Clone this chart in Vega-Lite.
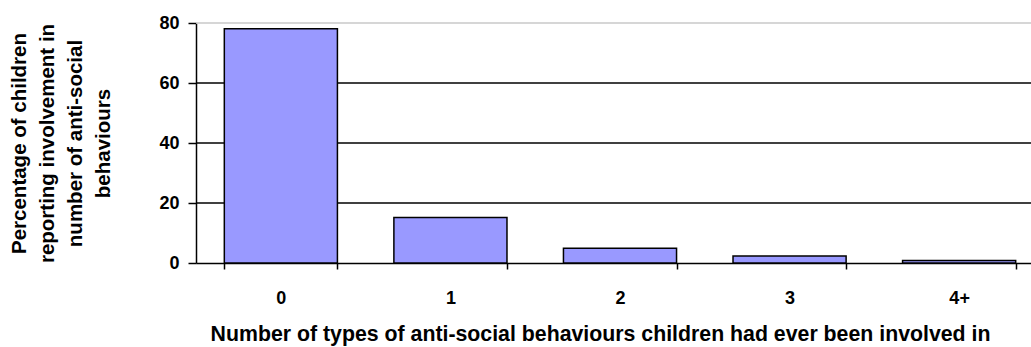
{
  "$schema": "https://vega.github.io/schema/vega-lite/v6.json",
  "width": 848,
  "height": 240,
  "autosize": "none",
  "padding": {"left": 196, "top": 23, "right": 0, "bottom": 84},
  "background": "white",
  "config": {
    "font": "Liberation Sans",
    "view": {"stroke": null}
  },
  "datasets": {
    "behaviours": [
      {"types": "0", "pct": 78.1},
      {"types": "1", "pct": 15.2},
      {"types": "2", "pct": 4.9},
      {"types": "3", "pct": 2.3},
      {"types": "4+", "pct": 0.8}
    ],
    "gridDark": [{"pct": 20}, {"pct": 40}, {"pct": 60}],
    "gridTop": [{"pct": 80}]
  },
  "layer": [
    {
      "data": {"name": "gridDark"},
      "mark": {"type": "rule", "color": "black", "strokeWidth": 1.5},
      "encoding": {
        "y": {"field": "pct", "type": "quantitative"}
      }
    },
    {
      "data": {"name": "gridTop"},
      "mark": {"type": "rule", "color": "#c8c8c8", "strokeWidth": 1.5},
      "encoding": {
        "y": {"field": "pct", "type": "quantitative"}
      }
    },
    {
      "data": {"name": "behaviours"},
      "mark": {"type": "bar", "color": "#9999FF", "stroke": "black", "strokeWidth": 1.5},
      "encoding": {
        "x": {
          "field": "types",
          "type": "ordinal",
          "sort": null,
          "scale": {"paddingInner": 0.333, "paddingOuter": 0.167},
          "axis": {
            "title": "Number of types of anti-social behaviours children had ever been involved in",
            "titleFont": "Liberation Sans",
            "titleFontSize": 21.3,
            "titleFontWeight": "bold",
            "titleColor": "black",
            "titlePadding": 16,
            "titleX": 404,
            "labelAngle": 0,
            "labelFont": "Liberation Sans",
            "labelFontSize": 18,
            "labelFontWeight": "bold",
            "labelColor": "black",
            "labelPadding": 20,
            "domainColor": "black",
            "domainWidth": 1.5,
            "tickColor": "black",
            "tickWidth": 1.5,
            "tickSize": 6,
            "tickBand": "extent",
            "grid": false
          }
        },
        "y": {
          "field": "pct",
          "type": "quantitative",
          "scale": {"domain": [0, 80], "nice": false},
          "axis": {
            "values": [0, 20, 40, 60, 80],
            "title": ["Percentage of children", "reporting involvement in", "number of anti-social", "behaviours"],
            "titleFont": "Liberation Sans",
            "titleFontSize": 20.5,
            "titleFontWeight": "bold",
            "titleColor": "black",
            "titleLineHeight": 28,
            "titlePadding": 45,
            "labelFont": "Liberation Sans",
            "labelFontSize": 18,
            "labelFontWeight": "bold",
            "labelColor": "black",
            "labelPadding": 9,
            "domainColor": "black",
            "domainWidth": 1.5,
            "tickColor": "black",
            "tickWidth": 1.5,
            "tickSize": 8,
            "grid": false
          }
        }
      }
    }
  ]
}
